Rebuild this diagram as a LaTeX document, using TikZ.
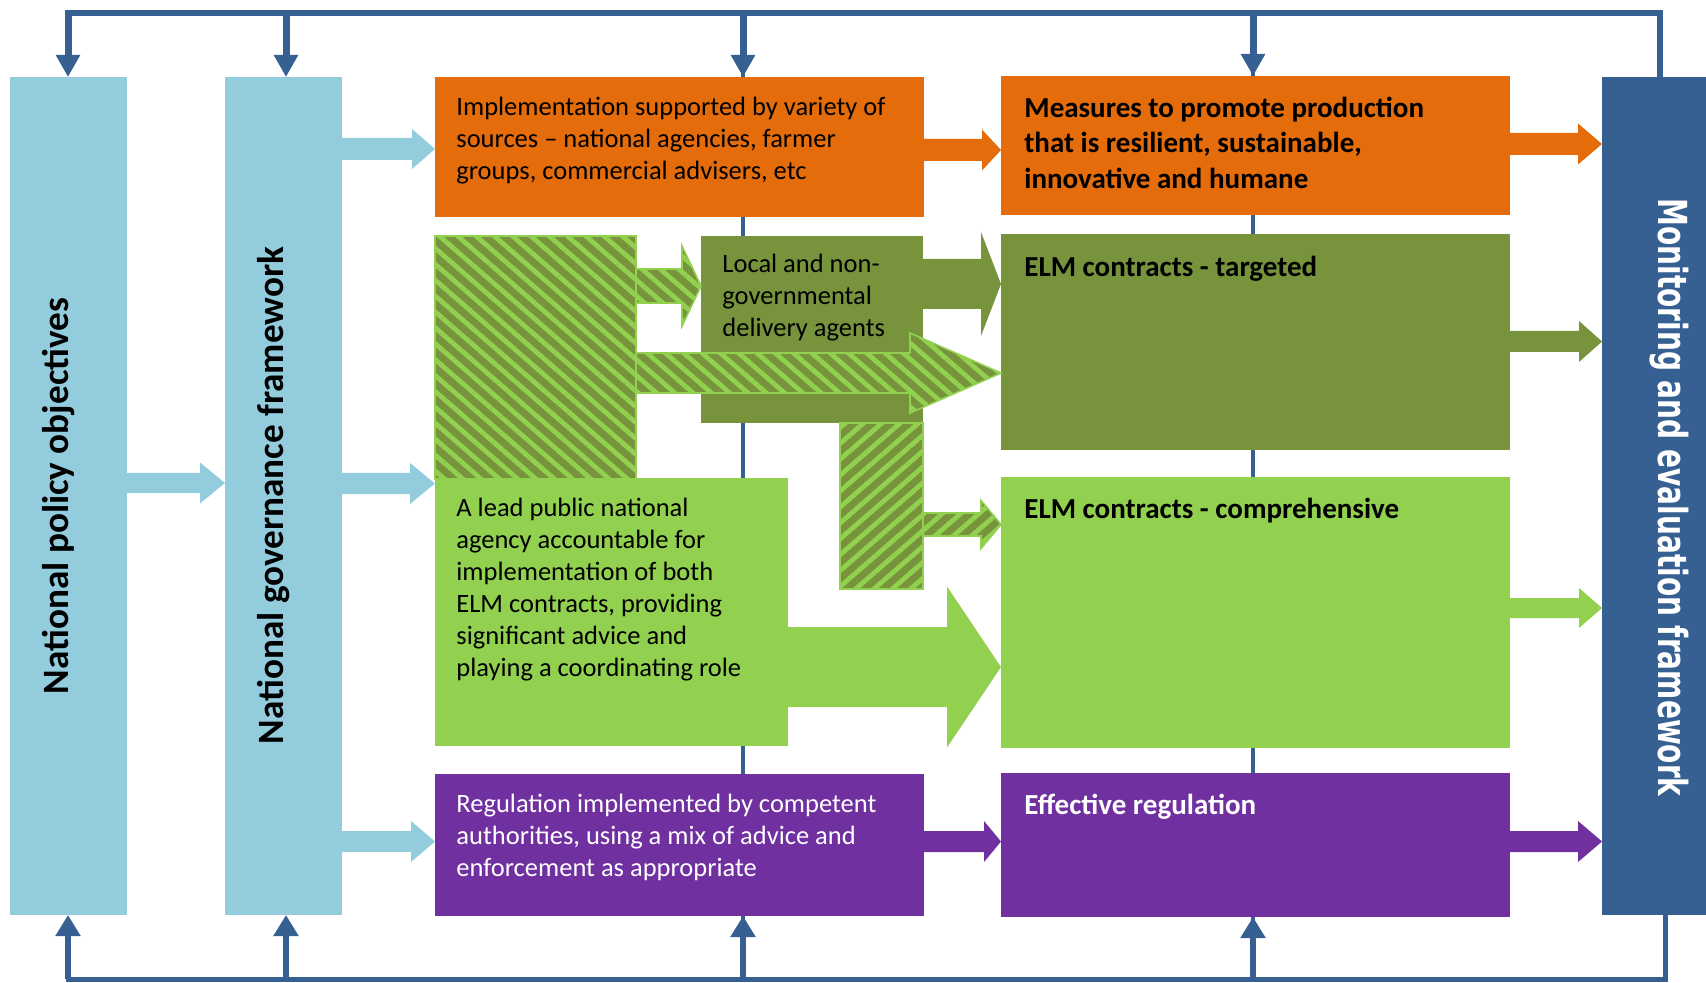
\documentclass[tikz,border=0pt]{standalone}
\usepackage{fontspec}
\setmainfont{Carlito}
\newfontfamily\monfont[FakeStretch=0.70]{DejaVu Sans}
\usetikzlibrary{arrows.meta,calc,patterns.meta,fit}
\definecolor{lblue}{HTML}{93CDDD}
\definecolor{orng}{HTML}{E46C0A}
\definecolor{olv}{HTML}{77933C}
\definecolor{lgrn}{HTML}{92D050}
\definecolor{purp}{HTML}{7030A0}
\definecolor{dblue}{HTML}{376092}
\tikzset{
  rbox/.style={inner sep=0pt, outer sep=0pt, draw=none},
  hatchback/.style={preaction={fill=olv}, pattern={Lines[angle=-41,distance=6pt,line width=2.4pt]}, pattern color=lgrn, draw=lgrn, line width=0.8pt},
  hatchfwd/.style={preaction={fill=olv}, pattern={Lines[angle=41,distance=6pt,line width=2.4pt]}, pattern color=lgrn, draw=lgrn, line width=0.8pt},
  topline/.style={draw=dblue, line width=3pt, line cap=rect},
  botline/.style={draw=dblue, line width=2.5pt, line cap=rect},
  downarr/.style={draw=dblue, line width=3.5pt, -{Triangle[length=11pt,width=11.5pt]}},
  uparr/.style={draw=dblue, line width=2.75pt, -{Triangle[length=10.5pt,width=12pt]}},
  thinline/.style={draw=dblue, line width=2.25pt},
  bodytxt/.style={inner sep=0pt, anchor=north west, align=left, font=\fontsize{13.25pt}{16pt}\selectfont},
  boldtxt/.style={inner sep=0pt, anchor=north west, align=left, font=\bfseries\fontsize{14.5pt}{17.75pt}\selectfont},
  verttxt/.style={inner sep=0pt, anchor=base, font=\bfseries\fontsize{18.6pt}{22pt}\selectfont},
}
% block arrow: style, start coordinate, tip coordinate, shaft half, head half, head length
\newcommand{\barrow}[6]{%
  \path[#1] ($(#2)+(0,-#4)$) -- ($(#3)+(-#6,-#4)$) -- ($(#3)+(-#6,-#5)$) -- (#3)
    -- ($(#3)+(-#6,#5)$) -- ($(#3)+(-#6,#4)$) -- ($(#2)+(0,#4)$) -- cycle;}
\begin{document}
\begin{tikzpicture}[x=0.5pt,y=-0.5pt]
\useasboundingbox (0,0) rectangle (1706,983);
% coordinates of the feedback lines
\coordinate (tA) at (68,13);
\coordinate (tB) at (286,13);
\coordinate (tC) at (743,13);
\coordinate (tD) at (1253,13);
\coordinate (tE) at (1660,13);
\coordinate (bA) at (68,979);
\coordinate (bB) at (286,979);
\coordinate (bC) at (743,979);
\coordinate (bD) at (1253,979);
\coordinate (bE) at (1665,979);
% thin vertical connector lines behind the boxes
\draw[thinline] (tC) -- (bC);
\draw[thinline] (tD) -- (bD);
% boxes
\node[rbox, fill=lblue, fit={(10,77) (127,915)}] (b1) {};
\node[rbox, fill=lblue, fit={(225,77) (342,915)}] (b2) {};
\node[rbox, fill=orng, fit={(435,77) (924,217)}] (o1) {};
\node[rbox, fill=orng, fit={(1001,76) (1510,215)}] (o2) {};
\node[rbox, fill=olv, fit={(701,236) (923,423)}] (dg) {};
\node[rbox, hatchback, fit={(435,236) (636,479)}] (h1) {};
\node[rbox, hatchfwd, fit={(840,423) (923,589)}] (hv) {};
\node[rbox, fill=lgrn, fit={(435,478) (788,746)}] (lg) {};
\node[rbox, fill=olv, fit={(1001,234) (1510,450)}] (tg) {};
\node[rbox, fill=lgrn, fit={(1001,477) (1510,748)}] (cp) {};
\node[rbox, fill=purp, fit={(435,774) (924,916)}] (p1) {};
\node[rbox, fill=purp, fit={(1001,773) (1510,917)}] (p2) {};
\node[rbox, fill=dblue, fit={(1602,77) (1706,915)}] (m) {};
% feedback lines
\draw[topline] (m.north -| tE) -- (tE) -- (tA);
\draw[botline] (m.south -| bE) -- (bE) -- (bA);
\draw[downarr] (tA) -- (tA |- b1.north);
\draw[downarr] (tB) -- (tB |- b2.north);
\draw[downarr] (tC) -- (tC |- o1.north);
\draw[downarr] (tD) -- (tD |- o2.north);
\draw[uparr] (bA) -- (bA |- b1.south);
\draw[uparr] (bB) -- (bB |- b2.south);
\draw[uparr] (bC) -- (bC |- p1.south);
\draw[uparr] (bD) -- (bD |- p2.south);
% arrow end points
\coordinate (s1) at (b1.east |- 0,483);   \coordinate (e1) at (b2.west |- 0,483);
\coordinate (s2) at (b2.east |- 0,149);   \coordinate (e2) at (o1.west |- 0,149);
\coordinate (s3) at (b2.east |- 0,483.5); \coordinate (e3) at (lg.west |- 0,483.5);
\coordinate (s4) at (b2.east |- 0,841.5); \coordinate (e4) at (p1.west |- 0,841.5);
\coordinate (s5) at (o1.east |- 0,150);   \coordinate (e5) at (o2.west |- 0,150);
\coordinate (s6) at (o2.east |- 0,144);   \coordinate (e6) at (m.west |- 0,144);
\coordinate (s7) at (dg.east |- 0,284);   \coordinate (e7) at (tg.west |- 0,284);
\coordinate (s8) at (tg.east |- 0,341.5); \coordinate (e8) at (m.west |- 0,341.5);
\coordinate (s9) at (h1.east |- 0,286);   \coordinate (e9) at (dg.west |- 0,286);
\coordinate (s10) at (h1.east |- 0,373);  \coordinate (e10) at (tg.west |- 0,373);
\coordinate (s11) at (hv.east |- 0,524.5);\coordinate (e11) at (cp.west |- 0,524.5);
\coordinate (s12) at (lg.east |- 0,667);  \coordinate (e12) at (cp.west |- 0,667);
\coordinate (s13) at (cp.east |- 0,608);  \coordinate (e13) at (m.west |- 0,608);
\coordinate (s14) at (p1.east |- 0,841.5);\coordinate (e14) at (p2.west |- 0,841.5);
\coordinate (s15) at (p2.east |- 0,841.5);\coordinate (e15) at (m.west |- 0,841.5);
% block arrows
\barrow{fill=lblue}{s1}{e1}{10}{20.5}{25}
\barrow{fill=lblue}{s2}{e2}{11}{20}{23}
\barrow{fill=lblue}{s3}{e3}{10.5}{20.5}{25}
\barrow{fill=lblue}{s4}{e4}{10.5}{20.5}{24}
\barrow{fill=orng}{s5}{e5}{11}{20.5}{19}
\barrow{fill=orng}{s6}{e6}{11}{20.5}{24}
\barrow{fill=olv}{s7}{e7}{25}{52}{20}
\barrow{fill=olv}{s8}{e8}{10.5}{20.5}{23}
\barrow{hatchback}{s9}{e9}{17}{40}{19}
\barrow{hatchback}{s10}{e10}{20}{40}{91}
\barrow{hatchfwd}{s11}{e11}{11.5}{24}{20}
\barrow{fill=lgrn}{s12}{e12}{40}{80.5}{54}
\barrow{fill=lgrn}{s13}{e13}{10}{20}{23}
\barrow{fill=purp}{s14}{e14}{10.5}{20.5}{17}
\barrow{fill=purp}{s15}{e15}{10.5}{20.5}{24}
% texts
\node[verttxt, rotate=90] (b1t) at (68,496) {National policy objectives};
\node[verttxt, rotate=90] (b2t) at (283,495.5) {National governance framework};
\node[inner sep=0pt, anchor=base, rotate=-90, text=white, font=\monfont\bfseries\fontsize{20pt}{24pt}\selectfont] (mt) at (1658,497.5) {Monitoring and evaluation framework};
\node[bodytxt] (o1t) at (456,92.6) {\strut Implementation supported by variety of\\sources – national agencies, farmer\\groups, commercial advisers, etc};
\node[boldtxt] (o2t) at (1024,92) {\strut Measures to promote production\\that is resilient, sustainable,\\innovative and humane};
\node[bodytxt] (dgt) at (722,249.6) {\strut Local and non-\\governmental\\delivery agents};
\node[bodytxt] (lgt) at (456,493.6) {\strut A lead public national\\agency accountable for\\implementation of both\\ELM contracts, providing\\significant advice and\\playing a coordinating role};
\node[bodytxt, text=white] (p1t) at (456,789.6) {\strut Regulation implemented by competent\\authorities, using a mix of advice and\\enforcement as appropriate};
\node[boldtxt] (tgt) at (1024,251) {\strut ELM contracts - targeted};
\node[boldtxt] (cpt) at (1024,493) {\strut ELM contracts - comprehensive};
\node[boldtxt, text=white] (p2t) at (1024,789) {\strut Effective regulation};
\end{tikzpicture}
\end{document}
